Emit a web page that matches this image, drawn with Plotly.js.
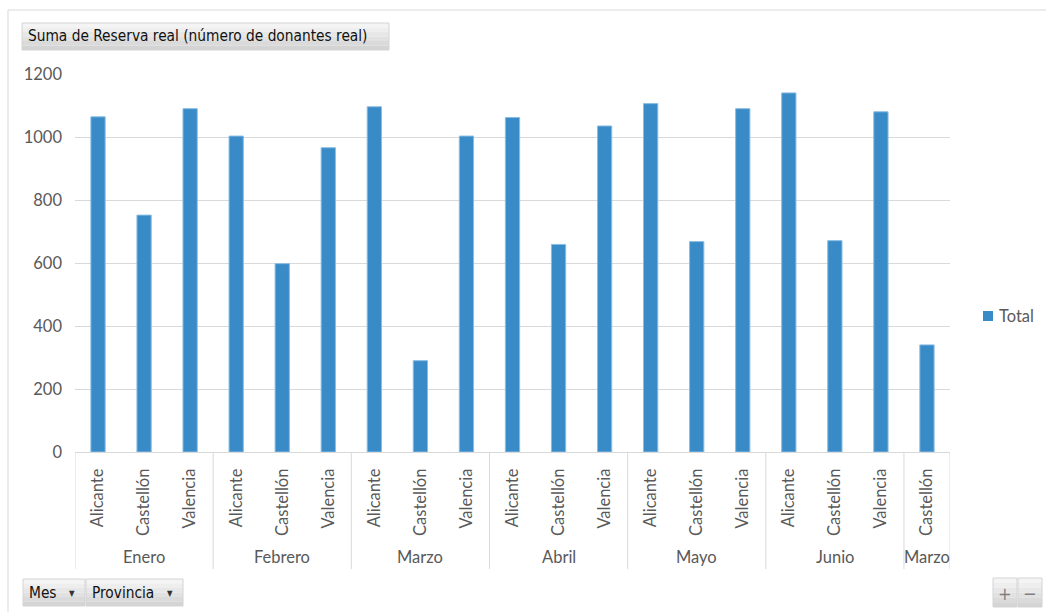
<!DOCTYPE html>
<html>
<head>
<meta charset="utf-8">
<script src="https://cdn.plot.ly/plotly-3.0.1.min.js"></script>
<style>
  html, body { margin: 0; padding: 0; background: #ffffff; }
  #chart { width: 1046px; height: 612px; }
</style>
</head>
<body>
<div id="chart"></div>
<script>
// ---- Data ----
const mes = ['Enero','Enero','Enero','Febrero','Febrero','Febrero','Marzo','Marzo','Marzo',
             'Abril','Abril','Abril','Mayo','Mayo','Mayo','Junio','Junio','Junio','Marzo'];
const provincia = ['Alicante','Castellón','Valencia','Alicante','Castellón','Valencia',
                   'Alicante','Castellón','Valencia','Alicante','Castellón','Valencia',
                   'Alicante','Castellón','Valencia','Alicante','Castellón','Valencia','Castellón'];
const total = [1064, 752, 1090, 1003, 598, 966, 1096, 290, 1003,
               1062, 659, 1035, 1106, 668, 1090, 1140, 671, 1080, 340];
const chartTitle = 'Suma de Reserva real (número de donantes real)';
const seriesName = 'Total';
const fieldButtons = ['Mes', 'Provincia'];

// ---- Geometry helpers (pixel -> paper) ----
const W = 1046, H = 612;
const M = {l: 75, r: 96, t: 74, b: 160, autoexpand: false};
const PW = W - M.l - M.r, PH = H - M.t - M.b;
const px = x => (x - M.l) / PW;
const py = y => (H - M.b - y) / PH;

const idx = total.map((_, i) => i);

// Group runs of consecutive months
const groups = [];
mes.forEach((m, i) => {
  const g = groups[groups.length - 1];
  if (g && g.name === m && g.end === i - 1) g.end = i;
  else groups.push({name: m, start: i, end: i});
});

const textColor = '#595959';
const gridColor = '#d9d9d9';
const barColor = '#388bc7';
const font = 'Lato, "Open Sans", sans-serif';
const fs = 16.5;
const btnFont = '"DejaVu Sans Condensed", "DejaVu Sans", sans-serif';

const shapes = [];
const annotations = [];

// outer chart border
shapes.push({type: 'rect', xref: 'paper', yref: 'paper',
  x0: px(8), x1: px(1060), y0: py(640), y1: py(10),
  line: {color: '#d9d9d9', width: 1}, fillcolor: 'rgba(0,0,0,0)', layer: 'below'});

// group dividers
const bounds = [groups[0].start - 0.5].concat(groups.map(g => g.end + 0.5));
bounds.forEach(b => shapes.push({type: 'line', xref: 'x', yref: 'paper',
  x0: b, x1: b, y0: 0, y1: py(569), line: {color: gridColor, width: 1}}));

// month labels
groups.forEach(g => annotations.push({
  xref: 'x', yref: 'paper', x: (g.start + g.end) / 2, y: py(557),
  text: g.name, showarrow: false, xanchor: 'center', yanchor: 'middle',
  font: {family: font, size: fs, color: textColor}
}));

// legend (drawn manually to match spacing)
shapes.push({type: 'rect', xref: 'paper', yref: 'paper',
  x0: px(983), x1: px(993), y0: py(321), y1: py(311),
  line: {width: 0}, fillcolor: barColor});
annotations.push({xref: 'paper', yref: 'paper', x: px(997), y: py(316),
  text: seriesName, showarrow: false, xanchor: 'left', yanchor: 'middle',
  font: {family: font, size: fs, color: textColor}});

// gradient-ish grey button
function gradRect(x0, x1, y0, y1) {
  const n = 6;
  const c0 = [244, 244, 244], c1 = [212, 212, 212];
  for (let k = 0; k < n; k++) {
    const t = k / (n - 1);
    const c = c0.map((v, j) => Math.round(v + (c1[j] - v) * t));
    const ya = y0 + (y1 - y0) * k / n, yb = y0 + (y1 - y0) * (k + 1) / n;
    shapes.push({type: 'rect', xref: 'paper', yref: 'paper',
      x0: px(x0), x1: px(x1), y0: py(yb), y1: py(ya),
      line: {width: 0}, fillcolor: `rgb(${c[0]},${c[1]},${c[2]})`});
  }
  shapes.push({type: 'rect', xref: 'paper', yref: 'paper',
    x0: px(x0), x1: px(x1), y0: py(y1), y1: py(y0),
    line: {color: '#d4d4d4', width: 1}, fillcolor: 'rgba(0,0,0,0)'});
}
function button(x0, x1, y0, y1, label, size, arrow) {
  gradRect(x0, x1, y0, y1);
  annotations.push({xref: 'paper', yref: 'paper', x: px(x0 + 4), y: py((y0 + y1) / 2),
    text: label, showarrow: false, xanchor: 'left', yanchor: 'middle',
    font: {family: btnFont, size: size, color: '#111111'}});
  if (arrow) annotations.push({xref: 'paper', yref: 'paper',
    x: px(x1 - 13), y: py((y0 + y1) / 2 + 1), text: '▼', showarrow: false,
    xanchor: 'center', yanchor: 'middle',
    font: {family: btnFont, size: 8, color: '#333333'}});
}
button(22, 389, 23, 50, chartTitle, 15.3, false);
button(23, 85, 579, 606, fieldButtons[0], 15.3, true);
button(86, 183, 579, 606, fieldButtons[1], 15.3, true);
// zoom buttons
[[993, 1017, '+'], [1018, 1042, '−']].forEach(b => {
  gradRect(b[0], b[1], 578, 607);
  annotations.push({xref: 'paper', yref: 'paper', x: px((b[0] + b[1]) / 2), y: py(593),
    text: b[2], showarrow: false, xanchor: 'center', yanchor: 'middle',
    font: {family: btnFont, size: 18, color: '#808080'}});
});

const trace = {
  type: 'bar', name: seriesName, x: idx, y: total,
  width: 0.31,
  marker: {color: barColor, line: {color: '#8abde3', width: 1}},
  hoverinfo: 'y', showlegend: false
};

const layout = {
  width: W, height: H,
  margin: M,
  paper_bgcolor: '#ffffff', plot_bgcolor: '#ffffff',
  font: {family: font, size: fs, color: textColor},
  showlegend: false,
  xaxis: {
    range: [-0.5, mes.length - 0.5], tickmode: 'array', tickvals: idx, ticktext: provincia,
    tickangle: -90, showgrid: false, zeroline: false, showline: true, linecolor: gridColor,
    linewidth: 1, ticks: '', ticklabelstandoff: 9, fixedrange: true, automargin: false,
    tickfont: {family: font, size: fs, color: textColor}
  },
  yaxis: {
    range: [0, 1200], dtick: 200, tick0: 0, showgrid: true, gridcolor: gridColor, gridwidth: 1,
    zeroline: false, showline: false, ticks: '', ticklabelstandoff: 12, fixedrange: true,
    automargin: false,
    tickfont: {family: font, size: fs, color: textColor}
  },
  shapes: shapes,
  annotations: annotations
};

Plotly.newPlot('chart', [trace], layout, {displayModeBar: false, staticPlot: true});
</script>
</body>
</html>
